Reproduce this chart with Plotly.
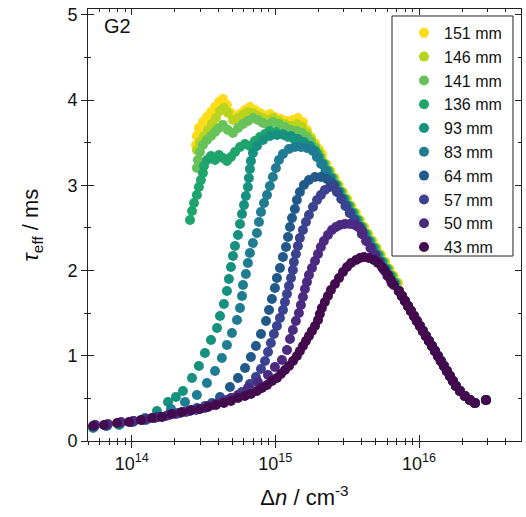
import plotly.graph_objects as go

# ---------------- data (log10 of Δn in cm^-3, τ_eff in ms) ----------------
names = ["151 mm", "146 mm", "141 mm", "136 mm", "93 mm", "83 mm", "64 mm", "57 mm", "50 mm", "43 mm"]
colors = ["#fcdc19", "#b8d41e", "#67c25a", "#1fa56c", "#17917f", "#1f7c93", "#21598b", "#3b4390", "#4c2a82", "#430b4e"]

rise_logn_151 = [14.448, 14.454, 14.468, 14.496, 14.524, 14.552, 14.580, 14.608, 14.635, 14.663, 14.691, 14.719, 14.754, 14.789, 14.823, 14.858, 14.893, 14.928, 14.962, 14.997, 15.039, 15.081, 15.122, 15.157, 15.192, 15.220, 15.248, 15.276, 15.303, 15.324]
rise_tau_151 = [3.474, 3.580, 3.674, 3.744, 3.803, 3.862, 3.920, 3.979, 4.014, 3.944, 3.850, 3.791, 3.838, 3.885, 3.920, 3.885, 3.850, 3.815, 3.838, 3.803, 3.779, 3.756, 3.768, 3.791, 3.744, 3.650, 3.568, 3.498, 3.427, 3.369]

rise_logn_146 = [14.454, 14.475, 14.503, 14.531, 14.559, 14.587, 14.615, 14.642, 14.670, 14.705, 14.740, 14.775, 14.809, 14.844, 14.879, 14.914, 14.949, 14.983, 15.025, 15.067, 15.109, 15.150, 15.185, 15.220, 15.248, 15.276, 15.303]
rise_tau_146 = [3.415, 3.509, 3.580, 3.650, 3.721, 3.791, 3.873, 3.909, 3.850, 3.768, 3.791, 3.826, 3.862, 3.850, 3.815, 3.791, 3.768, 3.791, 3.756, 3.721, 3.697, 3.721, 3.685, 3.615, 3.545, 3.462, 3.392]

rise_logn_141 = [14.454, 14.461, 14.475, 14.496, 14.524, 14.552, 14.580, 14.608, 14.635, 14.670, 14.705, 14.740, 14.775, 14.809, 14.844, 14.879, 14.914, 14.949, 14.983, 15.025, 15.067, 15.109, 15.150, 15.185, 15.220, 15.248, 15.276]
rise_tau_141 = [3.204, 3.298, 3.392, 3.474, 3.533, 3.580, 3.627, 3.674, 3.709, 3.650, 3.615, 3.674, 3.721, 3.756, 3.791, 3.768, 3.732, 3.709, 3.744, 3.721, 3.685, 3.650, 3.639, 3.615, 3.568, 3.509, 3.439]

rise_logn_136 = [14.406, 14.420, 14.434, 14.454, 14.468, 14.482, 14.496, 14.503, 14.524, 14.552, 14.580, 14.608, 14.635, 14.663, 14.691, 14.719, 14.754, 14.789, 14.823, 14.858, 14.893, 14.928, 14.962, 15.004, 15.046, 15.088, 15.129, 15.171, 15.213, 15.255, 15.290]
rise_tau_136 = [2.594, 2.699, 2.793, 2.887, 2.981, 3.063, 3.146, 3.228, 3.298, 3.345, 3.298, 3.357, 3.322, 3.286, 3.333, 3.392, 3.451, 3.486, 3.462, 3.521, 3.568, 3.603, 3.639, 3.627, 3.603, 3.568, 3.545, 3.521, 3.474, 3.427, 3.380]

rise_logn_93 = [13.731, 13.821, 13.912, 14.002, 14.093, 14.176, 14.253, 14.308, 14.357, 14.420, 14.468, 14.510, 14.552, 14.594, 14.615, 14.642, 14.663, 14.677, 14.691, 14.705, 14.719, 14.740, 14.754, 14.768, 14.782, 14.795, 14.809, 14.816, 14.823, 14.830, 14.844, 14.872, 14.914, 14.962, 15.011, 15.060, 15.109, 15.157, 15.199, 15.241, 15.276]
rise_tau_93 = [0.153, 0.176, 0.188, 0.223, 0.270, 0.352, 0.458, 0.516, 0.587, 0.739, 0.880, 1.033, 1.185, 1.326, 1.467, 1.608, 1.761, 1.901, 2.042, 2.171, 2.289, 2.418, 2.547, 2.664, 2.770, 2.876, 2.981, 3.087, 3.192, 3.286, 3.380, 3.462, 3.533, 3.580, 3.592, 3.592, 3.580, 3.545, 3.509, 3.462, 3.404]

rise_logn_83 = [13.738, 13.828, 13.919, 14.009, 14.100, 14.183, 14.274, 14.371, 14.454, 14.524, 14.580, 14.628, 14.663, 14.698, 14.733, 14.754, 14.768, 14.775, 14.795, 14.809, 14.823, 14.844, 14.872, 14.886, 14.900, 14.921, 14.942, 14.962, 14.983, 15.004, 15.025, 15.053, 15.095, 15.136, 15.178, 15.220, 15.262]
rise_tau_83 = [0.164, 0.176, 0.200, 0.223, 0.246, 0.293, 0.376, 0.458, 0.540, 0.681, 0.822, 0.974, 1.127, 1.268, 1.420, 1.561, 1.702, 1.831, 1.960, 2.089, 2.207, 2.324, 2.441, 2.570, 2.688, 2.793, 2.887, 2.993, 3.099, 3.204, 3.298, 3.369, 3.427, 3.451, 3.451, 3.439, 3.404]

rise_logn_64 = [13.745, 13.828, 13.919, 14.009, 14.093, 14.176, 14.253, 14.322, 14.392, 14.454, 14.510, 14.559, 14.615, 14.684, 14.740, 14.789, 14.830, 14.865, 14.900, 14.935, 14.956, 14.976, 14.997, 15.011, 15.032, 15.053, 15.074, 15.088, 15.102, 15.116, 15.136, 15.150, 15.171, 15.199, 15.234, 15.276, 15.317, 15.359, 15.387]
rise_tau_64 = [0.188, 0.188, 0.211, 0.235, 0.258, 0.282, 0.305, 0.329, 0.352, 0.387, 0.411, 0.446, 0.516, 0.634, 0.739, 0.857, 0.986, 1.115, 1.256, 1.408, 1.538, 1.667, 1.796, 1.913, 2.030, 2.160, 2.277, 2.394, 2.512, 2.617, 2.723, 2.829, 2.923, 3.005, 3.063, 3.099, 3.099, 3.075, 3.040]

rise_logn_57 = [13.738, 13.821, 13.912, 13.995, 14.079, 14.162, 14.239, 14.308, 14.378, 14.448, 14.510, 14.566, 14.615, 14.663, 14.705, 14.768, 14.823, 14.865, 14.900, 14.928, 14.949, 14.969, 14.990, 15.011, 15.032, 15.053, 15.067, 15.081, 15.095, 15.109, 15.122, 15.129, 15.143, 15.157, 15.171, 15.192, 15.213, 15.234, 15.262, 15.290, 15.317, 15.345, 15.380, 15.408]
rise_tau_57 = [0.176, 0.188, 0.211, 0.223, 0.246, 0.270, 0.293, 0.317, 0.340, 0.364, 0.387, 0.423, 0.458, 0.481, 0.505, 0.575, 0.669, 0.751, 0.845, 0.939, 1.045, 1.150, 1.256, 1.350, 1.444, 1.538, 1.631, 1.725, 1.819, 1.913, 2.007, 2.101, 2.195, 2.289, 2.383, 2.476, 2.570, 2.653, 2.746, 2.829, 2.887, 2.946, 2.981, 2.993]

rise_logn_50 = [13.745, 13.835, 13.926, 14.016, 14.100, 14.183, 14.260, 14.336, 14.406, 14.468, 14.531, 14.587, 14.642, 14.691, 14.740, 14.809, 14.879, 14.949, 14.997, 15.046, 15.081, 15.102, 15.122, 15.143, 15.164, 15.178, 15.192, 15.206, 15.220, 15.234, 15.255, 15.276, 15.297, 15.317, 15.338, 15.366, 15.394, 15.422, 15.450, 15.484, 15.519, 15.554, 15.582, 15.603]
rise_tau_50 = [0.188, 0.200, 0.223, 0.235, 0.258, 0.282, 0.305, 0.329, 0.352, 0.376, 0.411, 0.434, 0.469, 0.505, 0.540, 0.622, 0.692, 0.775, 0.869, 0.951, 1.068, 1.197, 1.303, 1.408, 1.502, 1.596, 1.690, 1.784, 1.866, 1.948, 2.030, 2.113, 2.195, 2.277, 2.347, 2.418, 2.477, 2.512, 2.535, 2.547, 2.547, 2.535, 2.512, 2.465]

rise_logn_43 = [13.731, 13.807, 13.898, 13.981, 14.065, 14.141, 14.211, 14.280, 14.350, 14.413, 14.475, 14.531, 14.587, 14.642, 14.691, 14.740, 14.788, 14.830, 14.872, 14.907, 14.942, 14.977, 15.011, 15.039, 15.067, 15.095, 15.123, 15.150, 15.171, 15.192, 15.213, 15.234, 15.255, 15.276, 15.297, 15.310, 15.324, 15.345, 15.366, 15.387, 15.415, 15.443, 15.471, 15.499, 15.527, 15.562, 15.589, 15.617, 15.651, 15.686, 15.714, 15.742, 15.763, 15.784, 15.804, 15.825]
rise_tau_43 = [0.176, 0.188, 0.211, 0.223, 0.246, 0.270, 0.282, 0.317, 0.340, 0.364, 0.376, 0.399, 0.423, 0.446, 0.469, 0.505, 0.528, 0.552, 0.587, 0.622, 0.657, 0.704, 0.739, 0.786, 0.833, 0.880, 0.939, 0.998, 1.056, 1.115, 1.174, 1.232, 1.291, 1.350, 1.420, 1.491, 1.561, 1.631, 1.702, 1.772, 1.843, 1.913, 1.984, 2.042, 2.089, 2.124, 2.148, 2.160, 2.148, 2.124, 2.089, 2.042, 1.995, 1.948, 1.890, 1.831]

# shared high-injection envelope (τ values) and per-series Δn along it
env_tau = [3.333, 3.251, 3.169, 3.087, 3.005, 2.923, 2.840, 2.758, 2.676, 2.594, 2.512, 2.430, 2.347, 2.265, 2.183, 2.101, 2.019, 1.937, 1.854]
env_logn_151 = [15.324, 15.354, 15.384, 15.413, 15.442, 15.471, 15.501, 15.530, 15.560, 15.590, 15.619, 15.648, 15.677, 15.707, 15.736, 15.766, 15.796, 15.825, 15.854]
env_logn_146 = [15.317, 15.347, 15.377, 15.406, 15.435, 15.464, 15.494, 15.523, 15.553, 15.583, 15.612, 15.641, 15.670, 15.700, 15.729, 15.759, 15.789, 15.818, 15.847]
env_logn_141 = [15.310, 15.340, 15.370, 15.399, 15.428, 15.457, 15.487, 15.516, 15.546, 15.576, 15.605, 15.634, 15.663, 15.693, 15.722, 15.752, 15.782, 15.811, 15.840]
env_logn_136 = [15.303, 15.333, 15.363, 15.392, 15.421, 15.450, 15.480, 15.509, 15.539, 15.569, 15.598, 15.627, 15.656, 15.686, 15.715, 15.745, 15.775, 15.804, 15.833]
env_logn_93 = [15.296, 15.326, 15.356, 15.385, 15.414, 15.443, 15.473, 15.502, 15.532, 15.562, 15.591, 15.620, 15.649, 15.679, 15.708, 15.738, 15.768, 15.797, 15.826]
env_logn_83 = [15.289, 15.319, 15.349, 15.378, 15.407, 15.436, 15.466, 15.495, 15.525, 15.555, 15.584, 15.613, 15.642, 15.672, 15.701, 15.731, 15.761, 15.790, 15.819]
env_logn_64 = [15.404, 15.433, 15.463, 15.492, 15.522, 15.552, 15.581, 15.610, 15.639, 15.669, 15.698, 15.728, 15.758, 15.787, 15.816]
env_logn_57 = [15.429, 15.459, 15.488, 15.518, 15.548, 15.577, 15.606, 15.635, 15.665, 15.694, 15.724, 15.754, 15.783, 15.812]
env_logn_50 = [15.603, 15.632, 15.662, 15.691, 15.721, 15.751, 15.780, 15.809]
env_logn_43 = []

# common tail at high injection
tail_logn = [15.860, 15.881, 15.902, 15.923, 15.944, 15.965, 15.985, 16.006, 16.027, 16.048, 16.069, 16.090, 16.111, 16.132, 16.152, 16.173, 16.194, 16.215, 16.236, 16.257, 16.285, 16.319, 16.354, 16.389, 16.466]
tail_tau = [1.761, 1.702, 1.643, 1.584, 1.526, 1.467, 1.408, 1.350, 1.291, 1.232, 1.174, 1.115, 1.056, 0.998, 0.939, 0.880, 0.822, 0.763, 0.704, 0.646, 0.587, 0.528, 0.481, 0.446, 0.481]

x_major = [1e14, 1e15, 1e16]
x_major_text = ["10<sup>14</sup>", "10<sup>15</sup>", "10<sup>16</sup>"]
x_minor = [5e13, 6e13, 7e13, 8e13, 9e13,
           2e14, 3e14, 4e14, 5e14, 6e14, 7e14, 8e14, 9e14,
           2e15, 3e15, 4e15, 5e15, 6e15, 7e15, 8e15, 9e15,
           2e16, 3e16, 4e16]
y_major = [0, 1, 2, 3, 4, 5]
y_minor = [0.5, 1.5, 2.5, 3.5, 4.5]

series = [
    (rise_logn_151, rise_tau_151, env_logn_151),
    (rise_logn_146, rise_tau_146, env_logn_146),
    (rise_logn_141, rise_tau_141, env_logn_141),
    (rise_logn_136, rise_tau_136, env_logn_136),
    (rise_logn_93, rise_tau_93, env_logn_93),
    (rise_logn_83, rise_tau_83, env_logn_83),
    (rise_logn_64, rise_tau_64, env_logn_64),
    (rise_logn_57, rise_tau_57, env_logn_57),
    (rise_logn_50, rise_tau_50, env_logn_50),
    (rise_logn_43, rise_tau_43, env_logn_43),
]

XR = [13.696, 16.71]
YR = [0, 5.07]
AX = "#222222"
FONT = "Liberation Sans, Arial, Helvetica, sans-serif"

fig = go.Figure()
for (rl, rt, el), name, col in zip(series, names, colors):
    n = min(len(rl), len(rt))
    et = env_tau[len(env_tau) - len(el):] if el else []
    logs = list(rl[:n]) + list(el) + list(tail_logn)
    taus = list(rt[:n]) + list(et) + list(tail_tau)
    fig.add_trace(go.Scatter(
        x=[10 ** v for v in logs], y=taus, mode="markers", name=name,
        marker=dict(size=10, color=col, line=dict(width=0)),
    ))

# helper trace for the overlay axes (inside ticks)
fig.add_trace(go.Scatter(x=[], y=[], xaxis="x2", yaxis="y2", showlegend=False,
                         hoverinfo="skip", mode="markers"))

fig.update_layout(
    width=526, height=517,
    margin=dict(l=88, r=5, t=9, b=76, autoexpand=False),
    paper_bgcolor="white", plot_bgcolor="white",
    font=dict(family=FONT, size=18, color="#111111"),
    legend=dict(x=0.7298, y=0.984, xanchor="left", yanchor="top",
                borderwidth=0, bgcolor="rgba(0,0,0,0)",
                font=dict(size=16, family=FONT), itemwidth=30, tracegroupgap=0),
    shapes=[dict(type="rect", xref="paper", yref="paper",
                 x0=0.7021, x1=0.9815, y0=0.4282, y1=0.9838,
                 line=dict(color=AX, width=1), fillcolor="white", layer="above")],
    xaxis=dict(type="log", range=XR, tickmode="array", tickvals=x_major, ticktext=x_major_text,
               ticks="outside", ticklen=6, tickwidth=1, tickcolor=AX,
               minor=dict(tickmode="array", tickvals=x_minor, ticks="outside", ticklen=3,
                          tickwidth=1, tickcolor=AX, showgrid=False),
               showline=True, linecolor=AX, linewidth=1, mirror=True,
               showgrid=False, zeroline=False,
               title=dict(text="Δ<i>n</i> / cm<sup>-3</sup>", font=dict(size=22), standoff=17)),
    yaxis=dict(range=YR, tickmode="array", tickvals=y_major,
               ticks="outside", ticklen=6, tickwidth=1, tickcolor=AX,
               minor=dict(tickmode="array", tickvals=y_minor, ticks="outside", ticklen=3,
                          tickwidth=1, tickcolor=AX, showgrid=False),
               showline=True, linecolor=AX, linewidth=1, mirror=True,
               showgrid=False, zeroline=False,
               title=dict(text="<i>τ</i><sub>eff</sub> / ms", font=dict(size=22), standoff=22)),
    xaxis2=dict(type="log", range=XR, overlaying="x", anchor="y2", side="bottom",
                tickmode="array", tickvals=x_major, showticklabels=False,
                ticks="inside", ticklen=6, tickwidth=1, tickcolor=AX, mirror="ticks",
                minor=dict(tickmode="array", tickvals=x_minor, ticks="inside", ticklen=3,
                           tickwidth=1, tickcolor=AX, showgrid=False),
                showline=False, showgrid=False, zeroline=False),
    yaxis2=dict(range=YR, overlaying="y", anchor="x2", side="left",
                tickmode="array", tickvals=y_major, showticklabels=False,
                ticks="inside", ticklen=6, tickwidth=1, tickcolor=AX, mirror="ticks",
                minor=dict(tickmode="array", tickvals=y_minor, ticks="inside", ticklen=3,
                           tickwidth=1, tickcolor=AX, showgrid=False),
                showline=False, showgrid=False, zeroline=False),
    annotations=[dict(text="G2", xref="paper", yref="paper", x=0.033, y=0.99,
                      xanchor="left", yanchor="top", showarrow=False,
                      font=dict(size=20, color="#111111"))],
)

fig.write_html("out.html")
